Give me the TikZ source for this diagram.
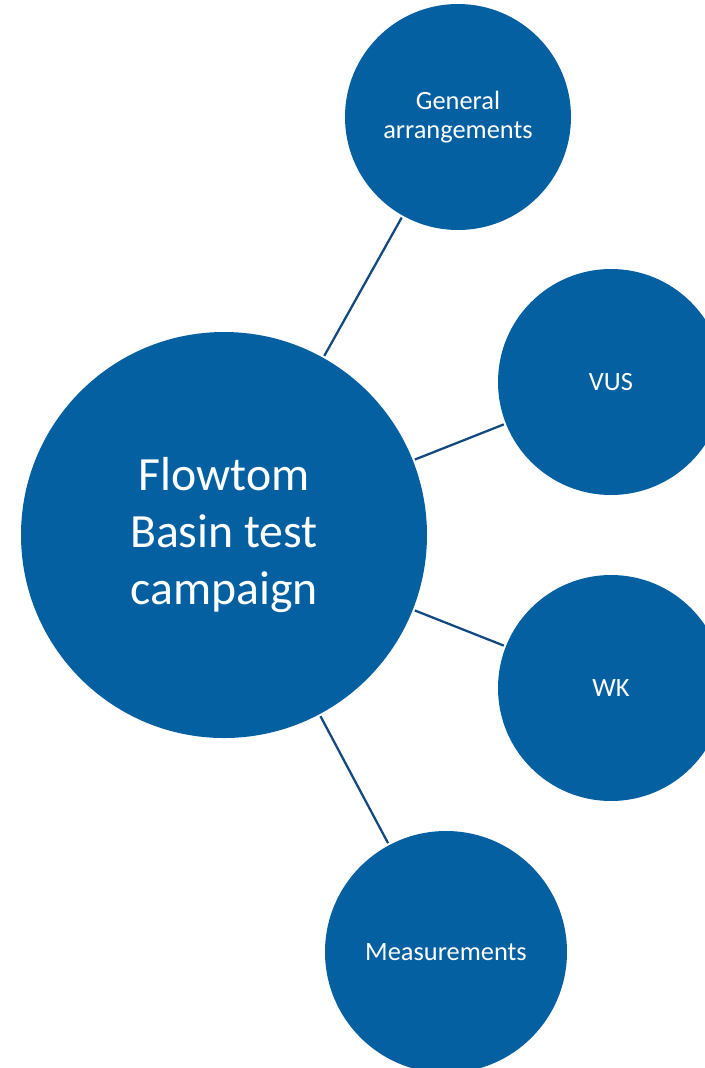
\documentclass[tikz,border=0pt]{standalone}
\usepackage{fontspec}
\setmainfont{Carlito}
\usepackage{tikz}
\usetikzlibrary{shapes.geometric}

\definecolor{bubble}{RGB}{5,96,162}
\definecolor{spoke}{RGB}{18,74,128}

\begin{document}
\begin{tikzpicture}
		[x=0.75pt, y=-0.75pt,
		hub/.style = {circle, fill=bubble, text=white, inner sep=0pt, minimum size=304.5pt, align=center, font=\fontsize{35.8}{42.5}\selectfont},
		leaf/.style = {circle, fill=bubble, text=white, inner sep=0pt, minimum size=169.5pt, align=center, font=\fontsize{19.8}{22}\selectfont},
		link/.style = {draw=spoke, line width=1.7pt, shorten >=1.5pt, shorten <=1.5pt}]
        \useasboundingbox (0,0) rectangle (705,1068);
        \clip (0,0) rectangle (705,1068);
        \node[hub] (camp) at (224,535) {Flowtom\\Basin test\\campaign};
        \node[leaf] (gen) at (458,117) {General\\arrangements};
        \node[leaf] (vus) at (611,382) {VUS};
        \node[leaf] (wk) at (611,688) {WK};
        \node[leaf, minimum size=181.5pt] (meas) at (446,952) {Measurements};

        \draw[link] (camp) -- (gen);
        \draw[link] (camp) -- (vus);
        \draw[link] (camp) -- (wk);
        \draw[link] (camp) -- (meas);
	\end{tikzpicture}
\end{document}
